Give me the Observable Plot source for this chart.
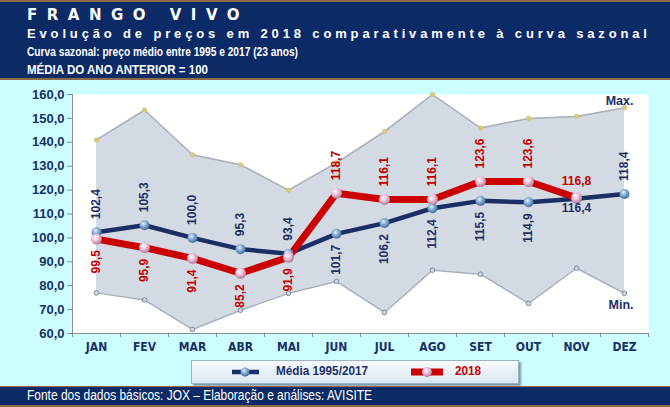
<!DOCTYPE html>
<html><head><meta charset="utf-8">
<script src="https://cdn.jsdelivr.net/npm/d3@7"></script>
<script src="https://cdn.jsdelivr.net/npm/@observablehq/plot@0.6"></script>
<style>
body{margin:0;width:670px;height:407px;background:#ccffff;overflow:hidden;position:relative;font-family:"Liberation Sans",Arial,sans-serif;}
.fit{display:inline-block;transform-origin:0 50%;white-space:nowrap;}
#header{position:absolute;left:0;top:0;width:670px;height:76px;background:#0b2a66;border-top:2px solid #8b6a48;border-bottom:2px solid #8b6a48;color:#fff;}
#header > div{position:absolute;left:27px;white-space:nowrap;}
#t1{top:4px;font-family:"DejaVu Sans",sans-serif;font-size:15px;font-weight:bold;letter-spacing:9.5px;}
#t2{top:24px;font-size:13px;font-weight:bold;letter-spacing:3.85px;}
#t3{top:42px;font-size:13.5px;font-weight:bold;}
#t4{top:60px;font-size:13.5px;font-weight:bold;}
#chart{position:absolute;left:0;top:80px;}
#legend{position:absolute;left:191px;top:360px;width:326px;height:22px;background:linear-gradient(#f7fbfe,#d8e6f3);border:1px solid #9fb2c6;box-shadow:2px 2px 2px #7f93a8;}
#legend > span{position:absolute;top:2px;font-size:13.5px;font-weight:bold;}
#footer{position:absolute;left:0;top:386px;width:670px;height:18px;background:#0b2a66;border-top:1px solid #8b6a48;border-bottom:2px solid #8b6a48;color:#fff;}
#footer > div{position:absolute;left:27px;top:0px;font-size:14px;white-space:nowrap;}
#chart svg text{font-family:"Liberation Sans",Arial,sans-serif;}
#chart [aria-label="x-axis tick label"] text{font-family:"DejaVu Sans Condensed","Liberation Sans",sans-serif;}
</style>
</head><body>
<svg width="0" height="0" style="position:absolute">
<defs>
<radialGradient id="gBlue" cx="40%" cy="35%" r="65%">
<stop offset="0%" stop-color="#e8f2fb"/><stop offset="45%" stop-color="#86afd6"/><stop offset="100%" stop-color="#3e6c9c"/>
</radialGradient>
<radialGradient id="gPink" cx="40%" cy="35%" r="65%">
<stop offset="0%" stop-color="#ffffff"/><stop offset="45%" stop-color="#efc3dc"/><stop offset="100%" stop-color="#b07a98"/>
</radialGradient>
</defs>
</svg>
<div id="header">
<div id="t1">FRANGO VIVO</div>
<div id="t2">Evolução de preços em 2018 comparativamente à curva sazonal</div>
<div id="t3"><span class="fit" data-w="271">Curva sazonal: preço médio entre 1995 e 2017 (23 anos)</span></div>
<div id="t4"><span class="fit" data-w="181">MÉDIA DO ANO ANTERIOR = 100</span></div>
</div>
<div id="chart"></div>
<div id="legend">
<svg width="326" height="22" style="position:absolute;left:0;top:0">
<line x1="40" x2="67" y1="11" y2="11" stroke="#1b2f66" stroke-width="4.5"/>
<circle cx="53" cy="11" r="4.5" fill="url(#gBlue)"/>
<line x1="219" x2="251" y1="11" y2="11" stroke="#cc0000" stroke-width="7"/>
<circle cx="235" cy="11" r="5" fill="url(#gPink)"/>
</svg>
<span style="left:84px;color:#1b2f66"><span class="fit" data-w="92">Média 1995/2017</span></span>
<span style="left:263px;color:#c00000"><span class="fit" data-w="26">2018</span></span>
</div>
<div id="footer"><div><span class="fit" data-w="345">Fonte dos dados básicos: JOX – Elaboração e análises: AVISITE</span></div></div>
<script>
const months = ["JAN","FEV","MAR","ABR","MAI","JUN","JUL","AGO","SET","OUT","NOV","DEZ"];
const media = [102.4,105.3,100.0,95.3,93.4,101.7,106.2,112.4,115.5,114.9,116.4,118.4];
const y2018 = [99.5,95.9,91.4,85.2,91.9,118.7,116.1,116.1,123.6,123.6,116.8];
const maxV = [141,153.5,134.8,130.6,120,131.4,144.5,160,146,150,150.8,154.5];
const minV = [77,74,61.7,69.7,76.8,81.8,68.8,86.5,84.8,72.6,87.3,76.8];
const yTicks = [60,70,80,90,100,110,120,130,140,150,160];
const mediaLabelPlace = ["up","up","up","up","up","down","down","down","down","down","downH","up"];
const y2018LabelPlace = ["down","down","down","down","down","up","up","up","up","up","upH"];

const fmt = v => d3.format(".1f")(v).replace(".", ",");
const band = months.map((m,i) => ({m, max:maxV[i], min:minV[i]}));
const med = months.map((m,i) => ({m, v:media[i], p:mediaLabelPlace[i]}));
const r18 = y2018.map((v,i) => ({m:months[i], v, p:y2018LabelPlace[i]}));
const navy = "#1b2f66", red = "#cc0000", lblRed = "#c00000";

function labels(data, fill) {
  const base = {x:"m", y:"v", text:d=>fmt(d.v), fill, fontWeight:"bold", fontSize:12};
  return [
    Plot.text(data.filter(d=>d.p==="up"), {...base, rotate:-90, textAnchor:"start", dy:-13}),
    Plot.text(data.filter(d=>d.p==="down"), {...base, rotate:-90, textAnchor:"end", dy:11}),
    Plot.text(data.filter(d=>d.p==="downH"), {...base, dy:9}),
    Plot.text(data.filter(d=>d.p==="upH"), {...base, dy:-17})
  ];
}

const chart = Plot.plot({
  width:670, height:277,
  marginTop:14, marginBottom:24, marginLeft:72, marginRight:22,
  style:{background:"transparent", overflow:"visible"},
  x:{type:"point", domain:months, padding:0.5, axis:null, label:null},
  y:{domain:[60,160], axis:null, label:null},
  marks:[
    Plot.frame({fill:"white", stroke:"none"}),
    Plot.areaY(band, {x:"m", y1:"min", y2:"max", fill:"#d4dae4"}),
    Plot.line(band, {x:"m", y:"max", stroke:"#a8afba", strokeWidth:1.5}),
    Plot.line(band, {x:"m", y:"min", stroke:"#a8afba", strokeWidth:1.5}),
    Plot.dot(band, {x:"m", y:"max", r:2.3, fill:"#dccb7a", stroke:"#c9b865", strokeWidth:0.5}),
    Plot.dot(band, {x:"m", y:"min", r:2.3, fill:"#cfd6e0", stroke:"#7d8ca2", strokeWidth:1}),
    Plot.ruleY([60], {stroke:"#8c8c8c"}),
    Plot.ruleX(["JAN"], {dx:-24, y1:60, y2:160, stroke:"#8c8c8c"}),
    Plot.ruleX(months, {dx:-24, y1:60, y2:58.3, stroke:"#8c8c8c"}),
    Plot.ruleX(["DEZ"], {dx:24, y1:60, y2:58.3, stroke:"#8c8c8c"}),
    Plot.axisY({ticks:yTicks, tickSize:5, tickPadding:3, tickFormat:fmt, fontSize:13, fontWeight:"bold", color:navy, stroke:"#8c8c8c", label:null}),
    Plot.axisX({tickSize:0, tickPadding:9, fontSize:12, fontWeight:"bold", color:navy, label:null}),
    Plot.line(med, {x:"m", y:"v", stroke:navy, strokeWidth:4.5}),
    Plot.line(r18, {x:"m", y:"v", stroke:red, strokeWidth:7}),
    Plot.dot(med, {x:"m", y:"v", r:5, fill:"url(#gBlue)"}),
    Plot.dot(r18, {x:"m", y:"v", r:5.5, fill:"url(#gPink)"}),
    ...labels(med, navy),
    ...labels(r18, lblRed),
    Plot.text(["DEZ"], {x:d=>d, y:160, text:()=>"Max.", textAnchor:"end", dx:9, dy:6, fill:navy, fontWeight:"bold", fontSize:12.5}),
    Plot.text(["DEZ"], {x:d=>d, y:70, text:()=>"Min.", textAnchor:"end", dx:9, dy:-5, fill:navy, fontWeight:"bold", fontSize:12.5})
  ]
});
document.getElementById("chart").appendChild(chart);

document.querySelectorAll(".fit").forEach(el => {
  const w = el.getBoundingClientRect().width;
  const target = +el.dataset.w;
  if (w > 0) el.style.transform = `scaleX(${target / w})`;
});
</script>
</body></html>
